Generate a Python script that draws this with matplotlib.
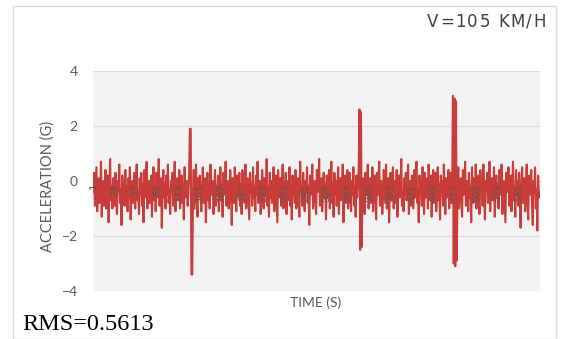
import numpy as np
import matplotlib
matplotlib.use("Agg")
import matplotlib.pyplot as plt
from matplotlib.patches import Rectangle

# Vertical acceleration samples (g), one per time step
acceleration = [
    -0.4, 0.3, -0.9, -0.2, 0.5, -1.1, -0.3, 0.1, -0.8, -0.5, 0.7, -1.3, -0.2, 0.0, -0.9, -0.4, 0.4, -1.0, -0.6, 0.2, -1.5, -0.3, 0.8, -0.7, -0.2, -1.0, 0.1, -0.5,
    -0.9, 0.3, -0.6, -1.2, 0.0, -0.4, 0.6, -0.8, -0.3, -1.6, 0.2, -0.5, -0.1, -0.9, 0.4, -0.7, -0.2, -1.1, 0.1, -0.6, 0.5, -1.4, -0.3, 0.0, -0.8, -0.4, 0.3, -1.0,
    -0.2, 0.6, -0.7, -0.4, -1.2, 0.1, -0.5, 0.3, -0.9, -0.1, -1.5, 0.4, -0.6, -0.3, 0.7, -1.0, -0.2, 0.0, -0.8, -0.5, 0.2, -1.3, -0.4, 0.5, -0.7, -0.1, -1.1, 0.3,
    -0.6, -0.2, 0.8, -0.9, -0.4, 0.1, -1.7, -0.3, 0.4, -0.6, -0.1, -1.0, 0.2, -0.5, 0.6, -0.8, -0.3, -1.2, 0.0, -0.4, 0.3, -0.9, -0.6, 0.7, -1.1, -0.2, 0.1, -0.7,
    -0.3, 0.4, -1.0, -0.5, 0.2, -0.8, -0.1, -1.4, 0.5, -0.6, -0.2, 0.0, -0.9, -0.4, 0.3, 1.9, 1.9, -3.4, -3.4, -0.5, 0.4, -1.0, -0.2, 0.6, -0.7, -1.3, 0.1, -0.4,
    0.2, -0.6, -1.1, -0.3, 0.5, -0.8, -0.2, 0.1, -1.5, -0.4, 0.3, -0.7, -0.1, -1.0, 0.6, -0.5, -0.3, 0.0, -1.2, -0.6, 0.4, -0.9, -0.2, -0.5, 0.2, -1.1, -0.4, 0.5,
    -0.7, -0.1, -1.3, 0.3, -0.5, -0.2, 0.7, -0.9, -0.4, 0.0, -1.0, -0.6, 0.4, -0.3, -1.6, 0.1, -0.5, -0.8, 0.5, -0.2, -1.1, 0.2, -0.6, -0.4, 0.3, -0.9, -0.1, -1.2,
    0.4, -0.5, -0.2, -0.8, 0.6, -1.0, -0.3, 0.1, -0.7, -1.4, 0.3, -0.4, -0.1, -0.9, 0.5, -0.6, -0.2, -1.1, 0.2, -0.5, 0.7, -0.8, -0.3, 0.0, -1.2, -0.6, 0.4, -0.2,
    -1.0, 0.1, -0.5, -0.3, 0.8, -0.9, -0.2, -1.3, 0.3, -0.6, 0.0, -0.8, -0.4, 0.5, -1.1, -0.2, 0.2, -0.7, -1.5, 0.4, -0.3, -0.6, 0.1, -0.9, -0.4, 0.6, -1.0, -0.1,
    -0.5, 0.3, -1.2, -0.3, 0.0, -0.7, 0.5, -0.9, -0.2, -1.4, 0.2, -0.5, -0.1, -0.8, 0.4, -1.0, -0.3, 0.1, -0.6, -1.3, 0.7, -0.4, -0.2, -0.9, 0.3, -0.6, -1.1, 0.0,
    -0.4, 0.5, -0.8, -0.2, -1.6, 0.2, -0.5, -0.1, 0.6, -1.0, -0.3, 0.0, -0.7, -1.2, 0.4, -0.4, -0.2, 0.8, -0.9, -0.5, 0.1, -1.1, -0.3, 0.3, -0.6, -0.1, -1.4, 0.2,
    -0.6, -0.2, 0.4, -1.0, -0.4, 0.7, -0.8, -0.1, -1.3, 0.3, -0.5, 0.0, -0.9, -0.3, 0.5, -1.2, -0.2, 0.1, -0.7, -0.4, 0.6, -1.5, -0.3, 0.2, -0.8, -0.1, 0.4, -1.0,
    -0.3, 0.3, -0.7, -1.1, 0.0, -0.5, 0.5, -0.9, -0.2, -1.3, 0.2, -0.6, -0.1, 0.4, 2.6, -2.5, 2.5, -2.4, -0.4, 0.1, -0.8, -1.2, 0.3, -0.5, -0.2, 0.6, -1.0, -0.3,
    0.1, -0.8, -0.4, 0.5, -1.1, -0.2, 0.2, -0.6, -1.4, 0.3, -0.5, -0.1, 0.7, -0.9, -0.3, 0.0, -1.2, -0.6, 0.4, -0.2, -0.8, 0.6, -1.0, -0.4, 0.1, -1.5, -0.3, 0.3,
    -0.7, -0.2, 0.5, -1.0, -0.5, 0.0, -0.8, 0.4, -1.3, -0.3, 0.2, -0.6, -0.1, 0.8, -0.9, -0.4, -1.1, 0.1, -0.5, 0.3, -0.7, -0.2, 0.6, -1.2, -0.3, 0.0, -0.9, 0.2,
    -0.4, -1.0, 0.4, -0.6, -0.1, 0.7, -0.8, -0.3, -1.5, 0.2, -0.5, 0.0, -0.9, 0.5, -0.2, -1.2, 0.3, -0.6, -0.4, 0.1, -1.0, 0.6, -0.3, -0.7, 0.2, -1.3, -0.1, 0.4,
    -0.8, -0.2, 0.3, -1.1, -0.5, 0.5, -0.7, -0.1, -1.4, 0.2, -0.4, 0.0, -0.9, 0.6, -0.3, -1.2, 0.1, -0.6, -0.2, 0.4, -1.0, -0.5, 0.3, -0.8, -0.1, 3.1, -3.0, 3.0,
    -3.1, 2.9, -2.9, -0.4, 0.5, -1.0, -0.3, 0.1, -0.7, -1.3, 0.4, -0.5, -0.2, 0.7, -0.9, -0.4, 0.0, -1.1, 0.3, -0.6, -0.2, -1.5, 0.5, -0.3, -0.8, 0.1, -0.5, 0.6,
    -1.0, -0.2, 0.2, -0.7, -1.2, 0.4, -0.4, -0.1, -0.9, 0.6, -0.5, -1.4, 0.0, -0.3, 0.3, -0.8, -0.6, 0.7, -1.1, -0.2, 0.1, -0.7, -0.4, 0.5, -1.3, -0.3, 0.2, -0.6,
    -0.1, -1.0, 0.4, -0.5, -0.3, 0.6, -1.2, -0.2, 0.0, -0.8, -1.5, 0.3, -0.4, -0.1, 0.5, -0.9, -0.6, 0.2, -1.1, -0.3, 0.7, -0.7, -0.2, -1.3, 0.4, -0.5, 0.0, -0.9,
    0.3, -0.6, -1.7, -0.2, 0.5, -0.8, -0.4, 0.1, -1.1, -0.3, 0.6, -0.7, -1.4, 0.2, -0.5, -0.1, 0.4, -0.9, -1.6, 0.0, -0.4, 0.5, -1.0, -0.3, -1.8, 0.2, -0.6, -0.4,
]

x_tick_step = 28
y_ticks = [-4, -2, 0, 2, 4]
speed_label = "V=105 KM/H"
rms_label = "RMS=0.5613"
x_title = "TIME (S)"
y_title = "ACCELERATION (G)"

n = len(acceleration)
time_steps = np.arange(1, n + 1)
x_tick_positions = list(range(1, n + 1, x_tick_step))
x_tick_labels = [str(v) for v in x_tick_positions]

W, H = 564, 339
fig = plt.figure(figsize=(W / 100, H / 100), dpi=100)
fig.patch.set_facecolor("white")

# chart frame
fig.add_artist(Rectangle((13 / W, 0), (556 - 13) / W, 1 - 6 / H,
                         transform=fig.transFigure, fill=False,
                         edgecolor="#d9d9d9", linewidth=1.0))

ax = fig.add_axes([93 / W, 1 - 291 / H, (540 - 93) / W, (291 - 71) / H])
ax.set_facecolor("#f2f2f2")
ax.plot(time_steps, acceleration, color="#c83c3a", linewidth=1.5, zorder=2)

ax.set_xlim(0.5, n + 0.5)
ax.set_ylim(-4, 4)
ax.set_yticks(y_ticks)
ax.yaxis.grid(True, color="#dadada", linewidth=0.8)
for side in ("top", "right", "left"):
    ax.spines[side].set_visible(False)
ax.spines["bottom"].set_position(("data", 0))
ax.spines["bottom"].set_color("#bfbfbf")

ax.set_xticks(x_tick_positions)
ax.set_xticklabels(x_tick_labels, rotation=90, fontsize=7.5,
                   color="#595959", family="Lato")
ax.tick_params(axis="x", length=0, pad=2)
ax.tick_params(axis="y", length=0, pad=11, labelsize=10, labelcolor="#595959")
for lbl in ax.get_yticklabels():
    lbl.set_family("Lato")
# category labels sit over the trace
ax.xaxis.set_zorder(3)
ax.spines["bottom"].set_zorder(1)

fig.text(316 / W, 1 - 303 / H, x_title, ha="center", va="center",
         fontsize=10, color="#595959", family="Lato")
fig.text(48 / W, 1 - 186 / H, y_title, ha="center", va="center",
         rotation=90, fontsize=10.5, color="#595959", family="Lato")
fig.text(22 / W, 1 - 324 / H, rms_label, ha="left", va="center",
         fontsize=17.5, color="black", family="Liberation Serif")

# letter-spaced speed caption in the top-right corner
renderer = fig.canvas.get_renderer()
x_px = 427.0
font_pt = 12
font_px = font_pt * 100 / 72
for ch in speed_label:
    if ch == " ":
        x_px += 0.32 * font_px + 1.5
        continue
    t = fig.text(x_px / W, 1 - 22 / H, ch, ha="left", va="center",
                 fontsize=font_pt, color="#404040", family="DejaVu Sans")
    x_px += t.get_window_extent(renderer).width + 1.5

fig.savefig("out.png", dpi=100)
